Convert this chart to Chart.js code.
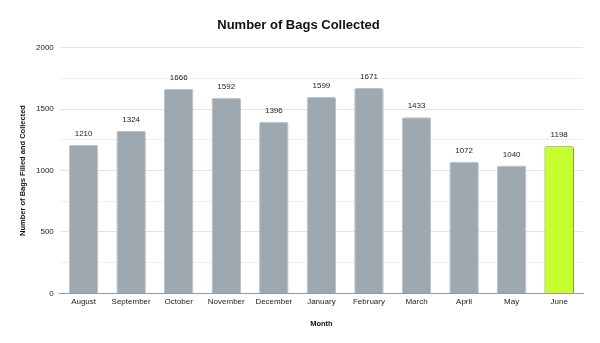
<!DOCTYPE html>
<html>
<head>
<meta charset="utf-8">
<script src="https://cdn.jsdelivr.net/npm/chart.js@4"></script>
<style>
  html, body { margin: 0; padding: 0; background: #fff; }
  #wrap { width: 600px; height: 343px; }
</style>
</head>
<body>
<div id="wrap"><canvas id="c"></canvas></div>
<script>
// data
const months = ['August', 'September', 'October', 'November', 'December', 'January',
    'February', 'March', 'April', 'May', 'June'];
const bags = [1210, 1324, 1666, 1592, 1396, 1599, 1671, 1433, 1072, 1040, 1198];
const yTicks = [0, 500, 1000, 1500, 2000];

const FONT = '"Liberation Sans", Arial, sans-serif';

const barFill = months.map((m, i) => i === months.length - 1 ? '#c6ff2f' : '#9ea8b0');
const barEdge = months.map((m, i) => i === months.length - 1 ? '#7a9a1a' : '#b8c0c6');

// values printed above each bar
const valueLabels = {
    id: 'valueLabels',
    afterDatasetsDraw(chart) {
        const ctx = chart.ctx;
        const meta = chart.getDatasetMeta(0);
        ctx.save();
        ctx.font = '8px ' + FONT;
        ctx.fillStyle = '#222';
        ctx.textAlign = 'center';
        ctx.textBaseline = 'middle';
        meta.data.forEach((bar, i) => {
            ctx.fillText(bags[i], bar.x, bar.y - 11);
        });
        ctx.restore();
    }
};

new Chart(document.getElementById('c'), {
    type: 'bar',
    data: {
        labels: months,
        datasets: [{
            data: bags,
            backgroundColor: barFill,
            borderColor: barEdge,
            borderWidth: 1,
            borderRadius: 2,
            borderSkipped: 'bottom',
            barPercentage: 0.62,
            categoryPercentage: 1
        }]
    },
    options: {
        responsive: true,
        maintainAspectRatio: false,
        animation: false,
        layout: { padding: { left: 14, right: 17, top: 8, bottom: 11 } },
        plugins: {
            legend: { display: false },
            tooltip: { enabled: false },
            title: {
                display: true,
                text: 'Number of Bags Collected',
                color: '#111',
                font: { family: FONT, size: 13, weight: 'bold' },
                padding: { top: 10, bottom: 14 }
            }
        },
        scales: {
            x: {
                grid: { display: false, drawTicks: false },
                border: { color: '#999', width: 1 },
                ticks: {
                    color: '#222',
                    font: { family: FONT, size: 8 },
                    maxRotation: 0,
                    autoSkip: false,
                    padding: 4
                },
                title: {
                    display: true,
                    text: 'Month',
                    color: '#111',
                    font: { family: FONT, size: 7.5, weight: 'bold' },
                    padding: { top: 8 }
                }
            },
            y: {
                min: 0,
                max: 2000,
                grid: {
                    color: ctx => ctx.tick && ctx.tick.value % 500 === 0 ? '#e4e4e4' : '#efefef',
                    drawTicks: false
                },
                border: { display: false },
                ticks: {
                    stepSize: 250,
                    color: '#222',
                    font: { family: FONT, size: 8 },
                    padding: 6,
                    callback: v => yTicks.includes(v) ? v : ''
                },
                title: {
                    display: true,
                    text: 'Number of Bags Filled and Collected',
                    color: '#111',
                    font: { family: FONT, size: 7.5, weight: 'bold' },
                    padding: { bottom: 3 }
                }
            }
        }
    },
    plugins: [valueLabels]
});
</script>
</body>
</html>
